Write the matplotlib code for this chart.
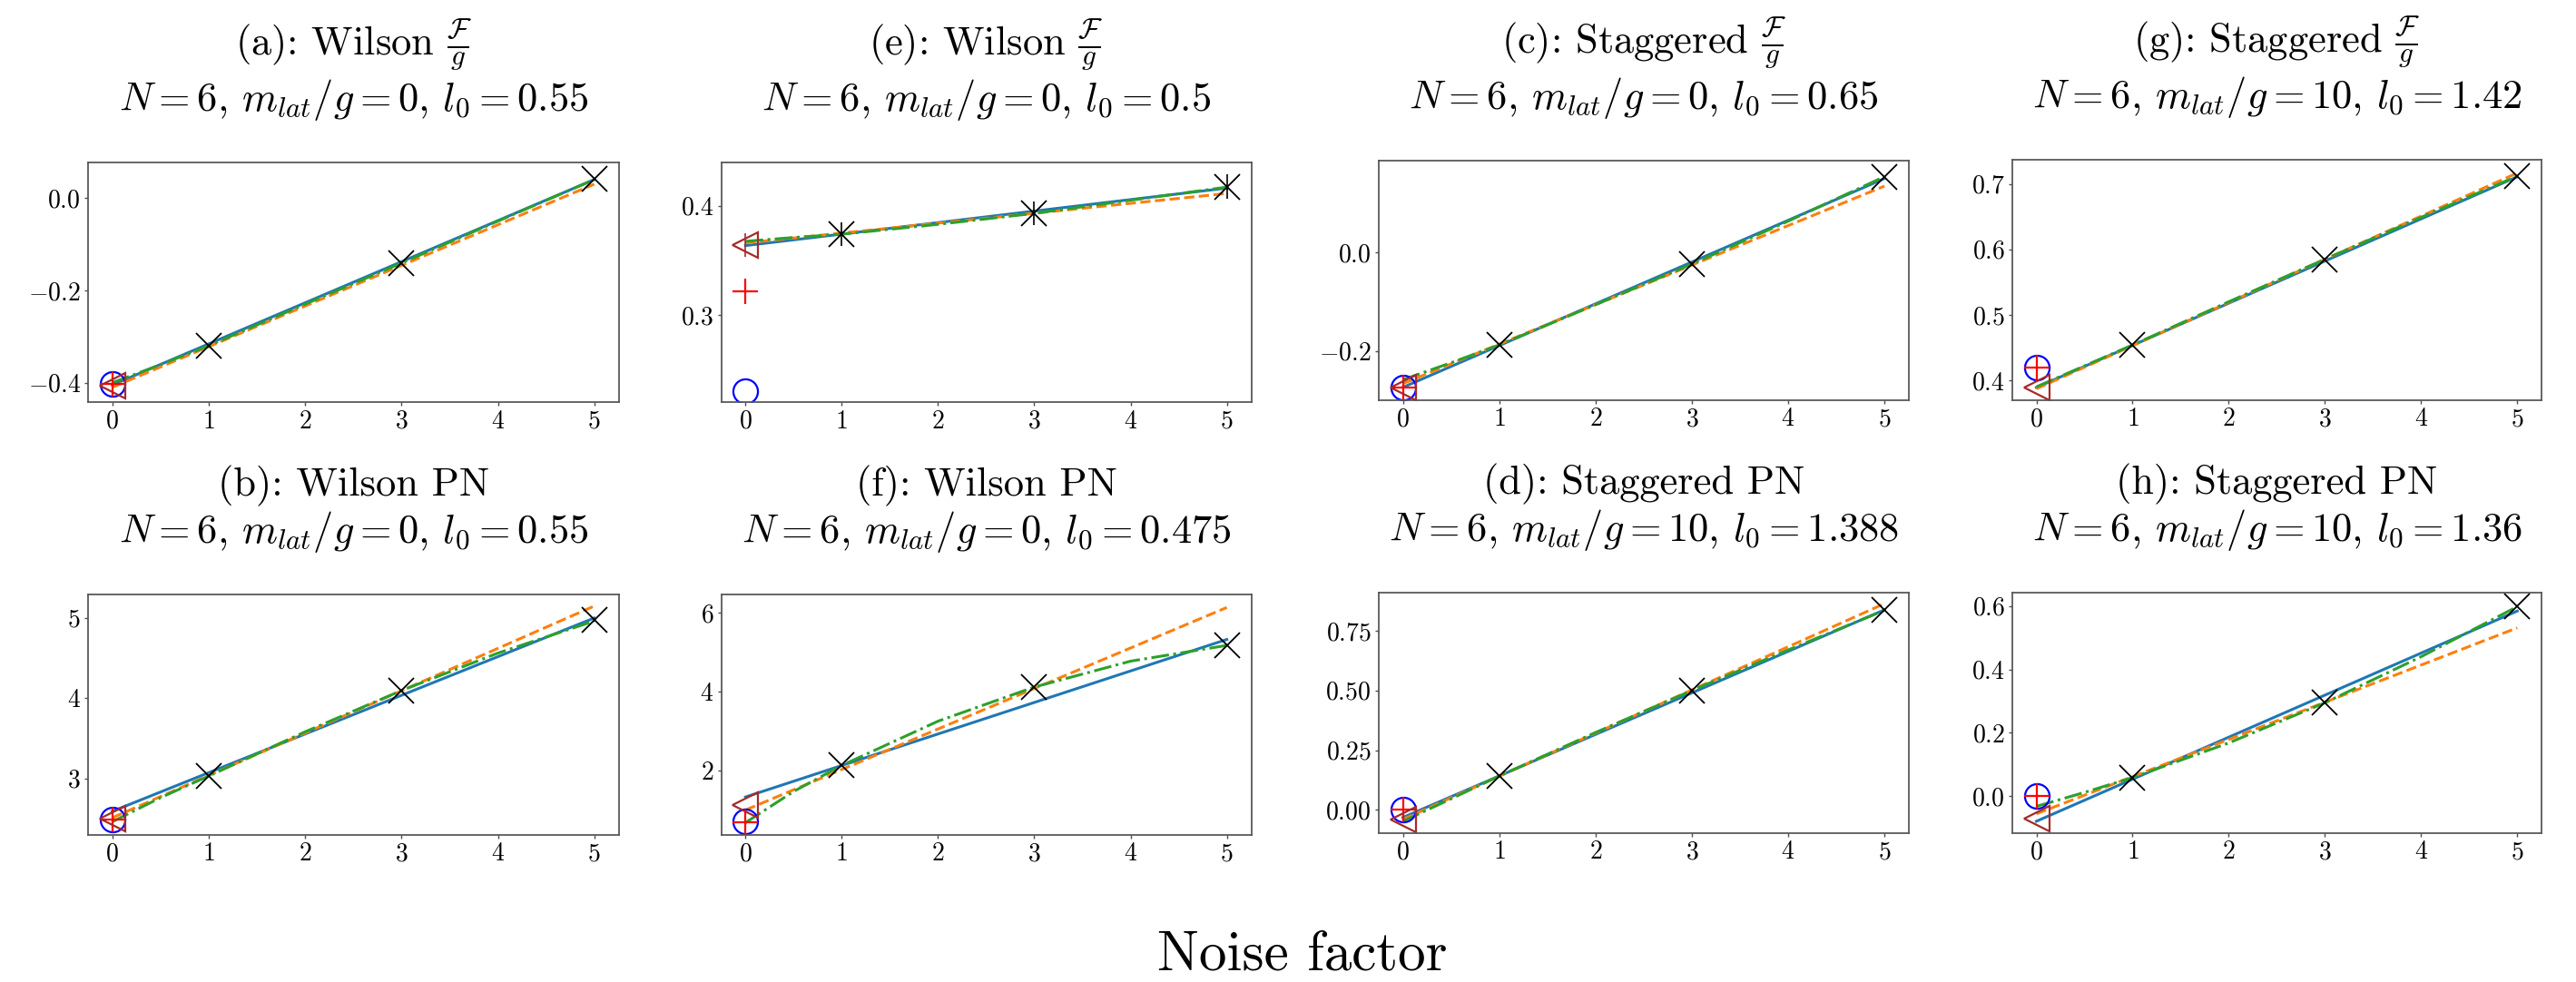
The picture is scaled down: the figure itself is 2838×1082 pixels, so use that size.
import numpy as np
import matplotlib
matplotlib.use("Agg")
import matplotlib.pyplot as plt

plt.rcParams['font.family'] = 'serif'
plt.rcParams['font.serif'] = ['cmr10']
plt.rcParams['mathtext.fontset'] = 'cm'
plt.rcParams['axes.formatter.use_mathtext'] = True
plt.rcParams['axes.unicode_minus'] = True

# ---- data ----
panels = ['a', 'e', 'c', 'g', 'b', 'f', 'd', 'h']
kinds = [r"Wilson $\frac{\mathcal{F}}{g}$", r"Wilson $\frac{\mathcal{F}}{g}$",
         r"Staggered $\frac{\mathcal{F}}{g}$", r"Staggered $\frac{\mathcal{F}}{g}$",
         "Wilson PN", "Wilson PN", "Staggered PN", "Staggered PN"]
mass = ['0', '0', '0', '10', '0', '0', '10', '10']
l0 = ['0.55', '0.5', '0.65', '1.42', '0.55', '0.475', '1.388', '1.36']

noise = [1, 3, 5]
meas_y = [[-0.320, -0.141, 0.0425], [0.374, 0.393, 0.4174],
          [-0.1877, -0.0234, 0.1546], [0.454, 0.585, 0.7121],
          [3.03, 4.094, 4.977], [2.13, 4.115, 5.17],
          [0.1418, 0.500, 0.839], [0.059, 0.2947, 0.598]]
meas_err = [[0, 0, 0], [0.011, 0.011, 0.011], [0, 0, 0], [0, 0, 0],
            [0, 0, 0], [0, 0, 0], [0, 0, 0], [0, 0, 0]]

exact_circle = [-0.402, 0.231, -0.275, 0.4194, 2.49, 0.72, 0.0, 0.0]
exact_plus = [-0.403, 0.322, -0.275, 0.4194, 2.49, 0.68, 0.0, 0.0]
tri_y = [-0.407, 0.364, -0.274, 0.389, 2.50, 1.12, -0.042, -0.070]
tri_err = [0, 0.011, 0, 0, 0, 0, 0, 0]

line_x = [0, 5]
blue_y = [[-0.405, 0.040], [0.3636, 0.4161], [-0.274, 0.1507], [0.389, 0.711],
          [2.59, 4.997], [1.33, 5.32], [-0.032, 0.838], [-0.079, 0.584]]
orange_y = [[-0.410, 0.030], [0.366, 0.4112], [-0.2665, 0.1353], [0.387, 0.7168],
            [2.51, 5.146], [1.00, 6.13], [-0.040, 0.864], [-0.0555, 0.531]]

curve_x = [0, 0.5, 1, 2, 3, 4, 5]
green_y = [[-0.400, -0.361, -0.320, -0.230, -0.141, -0.050, 0.040],
           [0.3675, 0.371, 0.374, 0.383, 0.393, 0.405, 0.417],
           [-0.2585, -0.224, -0.1877, -0.106, -0.0234, 0.064, 0.1546],
           [0.390, 0.422, 0.454, 0.520, 0.585, 0.649, 0.712],
           [2.46, 2.76, 3.03, 3.58, 4.094, 4.56, 4.96],
           [0.68, 1.47, 2.13, 3.25, 4.115, 4.77, 5.17],
           [-0.048, 0.046, 0.1418, 0.324, 0.500, 0.670, 0.836],
           [-0.032, 0.012, 0.059, 0.168, 0.2947, 0.440, 0.598]]

ylims = [(-0.4425, 0.077), (0.2205, 0.4395), (-0.3002, 0.1876), (0.3695, 0.7366),
         (2.296, 5.29), (0.368, 6.46), (-0.0965, 0.91), (-0.1156, 0.642)]
yticks = [[-0.4, -0.2, 0.0], [0.3, 0.4], [-0.2, 0.0], [0.4, 0.5, 0.6, 0.7],
          [3, 4, 5], [2, 4, 6], [0.0, 0.25, 0.5, 0.75], [0.0, 0.2, 0.4, 0.6]]
xticks = [0, 1, 2, 3, 4, 5]

# axes boxes in pixels: left, right, top, bottom
W, H = 2838, 1082
boxes = [(96.9, 681.7, 179, 443.3), (794.6, 1378.5, 179, 443.3),
         (1518.8, 2103.1, 176.7, 441), (2216.8, 2800.2, 176.3, 441),
         (96.9, 681.7, 655, 920), (794.6, 1378.5, 655, 920),
         (1518.8, 2103.1, 653, 917.7), (2216.8, 2800.2, 653, 917.7)]

fig = plt.figure(figsize=(W / 100, H / 100), dpi=100)

for i, p in enumerate(panels):
    l, r, t, b = boxes[i]
    ax = fig.add_axes([l / W, 1 - b / H, (r - l) / W, (b - t) / H])

    ax.plot(line_x, blue_y[i], color='C0', lw=2.2, ls='-')
    ax.plot(line_x, orange_y[i], color='C1', lw=2.2, ls='--')
    ax.plot(curve_x, green_y[i], color='C2', lw=2.2, ls='-.')

    ax.errorbar(noise, meas_y[i], yerr=meas_err[i], fmt='x', color='black',
                ms=20, mew=1.3, elinewidth=1.2, capsize=0)
    ax.plot([0], [exact_circle[i]], 'o', mfc='none', mec='blue', ms=19.5, mew=1.6)
    ax.plot([0], [exact_plus[i]], '+', color='red', ms=19.5, mew=1.6)
    ax.errorbar([0], [tri_y[i]], yerr=[tri_err[i]], fmt='<', mfc='none',
                mec='brown', ecolor='brown', ms=20, mew=1.6, elinewidth=1.2, capsize=0)

    ax.set_xlim(-0.252, 5.254)
    ax.set_ylim(*ylims[i])
    ax.set_xticks(xticks)
    ax.set_yticks(yticks[i])
    ax.tick_params(labelsize=20, length=2.8, width=1, pad=3, direction='out', color='0.3')
    for s in ax.spines.values():
        s.set_color('0.35')
        s.set_linewidth(1.3)

    # two-line title, baselines placed above the axes top
    top_row = i < 4
    ax.annotate(f"({p}): {kinds[i]}", xy=(0.5, 1), xycoords='axes fraction',
                xytext=(0, 86 if top_row else 78.5), textcoords='offset points',
                ha='center', va='baseline', fontsize=32)
    ax.annotate(rf"$N=6$, $m_{{lat}}/g={mass[i]}$, $l_0={l0[i]}$",
                xy=(0.5, 1), xycoords='axes fraction',
                xytext=(0, 41), textcoords='offset points',
                ha='center', va='baseline', fontsize=32)

fig.text(1435 / W, 1 - 1053 / H, "Noise factor", fontsize=44, ha='center', va='center')

fig.savefig("out.png", dpi=100)
